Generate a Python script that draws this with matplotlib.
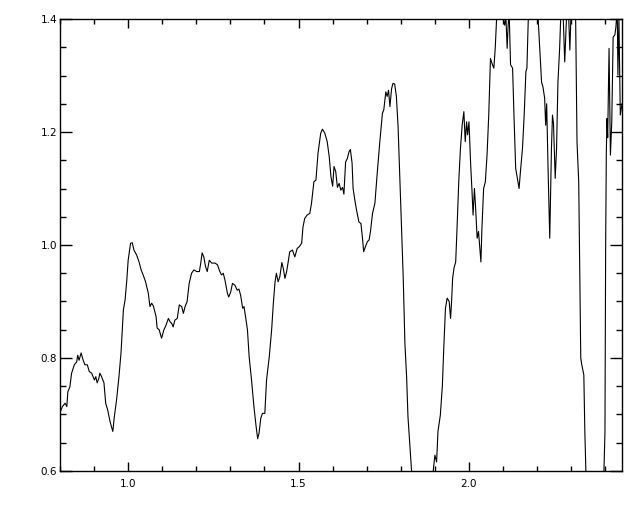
import matplotlib
matplotlib.use("Agg")
import matplotlib.pyplot as plt
from matplotlib.ticker import MultipleLocator, FormatStrFormatter

wavelength = [
    0.801, 0.807, 0.815, 0.820, 0.823, 0.829, 0.834, 0.842, 0.849, 0.852,
    0.856, 0.862, 0.868, 0.873, 0.880, 0.886, 0.893, 0.901, 0.905, 0.909,
    0.914, 0.917, 0.922, 0.929, 0.934, 0.940, 0.947, 0.955, 0.959, 0.966,
    0.973, 0.979, 0.986, 0.991, 0.996, 1.000, 1.007, 1.012, 1.017, 1.025,
    1.032, 1.038, 1.044, 1.051, 1.059, 1.064, 1.069, 1.074, 1.082, 1.085,
    1.091, 1.098, 1.105, 1.111, 1.118, 1.123, 1.128, 1.132, 1.137, 1.144,
    1.150, 1.157, 1.162, 1.167, 1.173, 1.179, 1.186, 1.193, 1.201, 1.209,
    1.213, 1.217, 1.222, 1.227, 1.232, 1.238, 1.245, 1.255, 1.262, 1.269,
    1.274, 1.279, 1.284, 1.291, 1.295, 1.301, 1.306, 1.313, 1.320, 1.325,
    1.330, 1.336, 1.340, 1.345, 1.350, 1.355, 1.362, 1.369, 1.375, 1.380,
    1.384, 1.389, 1.394, 1.401, 1.406, 1.414, 1.421, 1.426, 1.431, 1.435,
    1.440, 1.445, 1.451, 1.455, 1.460, 1.465, 1.469, 1.474, 1.482, 1.489,
    1.496, 1.502, 1.509, 1.513, 1.518, 1.525, 1.533, 1.538, 1.545, 1.551,
    1.557, 1.565, 1.570, 1.577, 1.584, 1.590, 1.595, 1.600, 1.604, 1.609,
    1.614, 1.619, 1.624, 1.629, 1.633, 1.638, 1.643, 1.648, 1.652, 1.657,
    1.660, 1.665, 1.670, 1.677, 1.683, 1.688, 1.691, 1.696, 1.702, 1.707,
    1.711, 1.717, 1.724, 1.730, 1.738, 1.746, 1.750, 1.756, 1.760, 1.764,
    1.768, 1.773, 1.777, 1.782, 1.787, 1.792, 1.797, 1.802, 1.807, 1.812,
    1.817, 1.821, 1.826, 1.831, 1.838, 1.864, 1.891, 1.895, 1.900, 1.905,
    1.909, 1.916, 1.922, 1.926, 1.931, 1.936, 1.942, 1.946, 1.949, 1.952,
    1.956, 1.961, 1.965, 1.970, 1.975, 1.980, 1.985, 1.989, 1.993, 1.996,
    2.000, 2.005, 2.009, 2.012, 2.016, 2.019, 2.024, 2.028, 2.032, 2.035,
    2.038, 2.043, 2.048, 2.053, 2.058, 2.063, 2.069, 2.073, 2.077, 2.081,
    2.090, 2.100, 2.105, 2.108, 2.112, 2.115, 2.118, 2.122, 2.128, 2.132,
    2.137, 2.142, 2.147, 2.151, 2.157, 2.162, 2.167, 2.170, 2.174, 2.187,
    2.203, 2.213, 2.217, 2.222, 2.225, 2.228, 2.232, 2.237, 2.242, 2.245,
    2.248, 2.253, 2.257, 2.261, 2.266, 2.269, 2.275, 2.281, 2.286, 2.291,
    2.296, 2.300, 2.308, 2.313, 2.317, 2.322, 2.325, 2.328, 2.331, 2.337,
    2.340, 2.343, 2.346, 2.369, 2.394, 2.396, 2.399, 2.401, 2.403, 2.405,
    2.407, 2.411, 2.415, 2.419, 2.423, 2.428, 2.431, 2.435, 2.437, 2.440,
    2.444, 2.449,
]

flux = [
    0.705, 0.714, 0.720, 0.714, 0.740, 0.749, 0.773, 0.788, 0.793, 0.805,
    0.796, 0.809, 0.796, 0.788, 0.788, 0.776, 0.773, 0.761, 0.767, 0.756,
    0.764, 0.773, 0.767, 0.756, 0.720, 0.708, 0.687, 0.670, 0.694, 0.726,
    0.767, 0.809, 0.885, 0.903, 0.938, 0.973, 1.003, 1.004, 0.991, 0.982,
    0.970, 0.956, 0.947, 0.935, 0.915, 0.891, 0.897, 0.892, 0.873, 0.853,
    0.850, 0.835, 0.850, 0.858, 0.870, 0.864, 0.861, 0.855, 0.867, 0.870,
    0.894, 0.891, 0.879, 0.891, 0.900, 0.932, 0.950, 0.956, 0.953, 0.953,
    0.968, 0.986, 0.979, 0.962, 0.953, 0.973, 0.968, 0.968, 0.965, 0.953,
    0.947, 0.950, 0.938, 0.915, 0.908, 0.917, 0.932, 0.929, 0.920, 0.922,
    0.911, 0.888, 0.891, 0.870, 0.850, 0.802, 0.761, 0.714, 0.681, 0.657,
    0.667, 0.693, 0.702, 0.702, 0.761, 0.802, 0.850, 0.897, 0.935, 0.950,
    0.935, 0.944, 0.969, 0.959, 0.941, 0.953, 0.968, 0.988, 0.991, 0.979,
    0.994, 0.997, 1.003, 1.032, 1.047, 1.053, 1.056, 1.074, 1.112, 1.115,
    1.162, 1.198, 1.205, 1.198, 1.183, 1.156, 1.121, 1.104, 1.139, 1.130,
    1.102, 1.109, 1.097, 1.102, 1.090, 1.147, 1.153, 1.165, 1.169, 1.145,
    1.100, 1.080, 1.062, 1.041, 1.038, 1.009, 0.988, 0.997, 1.006, 1.009,
    1.024, 1.056, 1.074, 1.121, 1.180, 1.233, 1.239, 1.271, 1.263, 1.274,
    1.245, 1.277, 1.286, 1.285, 1.263, 1.209, 1.121, 1.032, 0.944, 0.826,
    0.767, 0.696, 0.649, 0.605, 0.560, 0.450, 0.560, 0.600, 0.628, 0.616,
    0.670, 0.699, 0.752, 0.817, 0.888, 0.906, 0.900, 0.870, 0.900, 0.941,
    0.959, 0.970, 1.030, 1.112, 1.171, 1.212, 1.236, 1.183, 1.218, 1.195,
    1.218, 1.142, 1.094, 1.053, 1.100, 1.071, 1.012, 1.024, 0.994, 0.970,
    1.030, 1.100, 1.112, 1.159, 1.230, 1.330, 1.319, 1.313, 1.348, 1.400,
    1.460, 1.400, 1.389, 1.410, 1.348, 1.390, 1.410, 1.319, 1.313, 1.230,
    1.136, 1.118, 1.100, 1.130, 1.171, 1.230, 1.307, 1.313, 1.400, 1.480,
    1.400, 1.288, 1.280, 1.260, 1.212, 1.250, 1.136, 1.012, 1.171, 1.230,
    1.215, 1.118, 1.171, 1.288, 1.348, 1.400, 1.430, 1.324, 1.400, 1.430,
    1.345, 1.420, 1.460, 1.400, 1.182, 1.112, 0.952, 0.800, 0.788, 0.770,
    0.669, 0.600, 0.500, 0.200, 0.500, 0.600, 0.669, 0.995, 1.164, 1.224,
    1.190, 1.348, 1.159, 1.218, 1.368, 1.372, 1.385, 1.420, 1.301, 1.400,
    1.230, 1.250,
]

x_range = (0.8, 2.449)
y_range = (0.6, 1.4)

fig = plt.figure(figsize=(6.4, 5.12), dpi=100)
ax = fig.add_axes([60 / 640, 41 / 512, 562 / 640, 452 / 512])
ax.plot(wavelength, flux, color="black", lw=0.8)
ax.set_xlim(*x_range)
ax.set_ylim(*y_range)

ax.xaxis.set_major_locator(MultipleLocator(0.5))
ax.xaxis.set_minor_locator(MultipleLocator(0.1))
ax.yaxis.set_major_locator(MultipleLocator(0.2))
ax.yaxis.set_minor_locator(MultipleLocator(0.05))
ax.xaxis.set_major_formatter(FormatStrFormatter("%.1f"))
ax.yaxis.set_major_formatter(FormatStrFormatter("%.1f"))

ax.tick_params(axis="x", which="both", direction="in", top=True, bottom=True,
               labelsize=7.5, pad=6, width=1)
ax.tick_params(axis="x", which="major", length=6.8)
ax.tick_params(axis="x", which="minor", length=3.4)
ax.tick_params(axis="y", which="both", direction="in", left=True, right=True,
               labelsize=7.5, pad=2, width=1)
ax.tick_params(axis="y", which="major", length=8.4)
ax.tick_params(axis="y", which="minor", length=4.2)
for s in ax.spines.values():
    s.set_linewidth(1)
    s.set_color("black")

fig.savefig("out.png", dpi=100, facecolor="white")
